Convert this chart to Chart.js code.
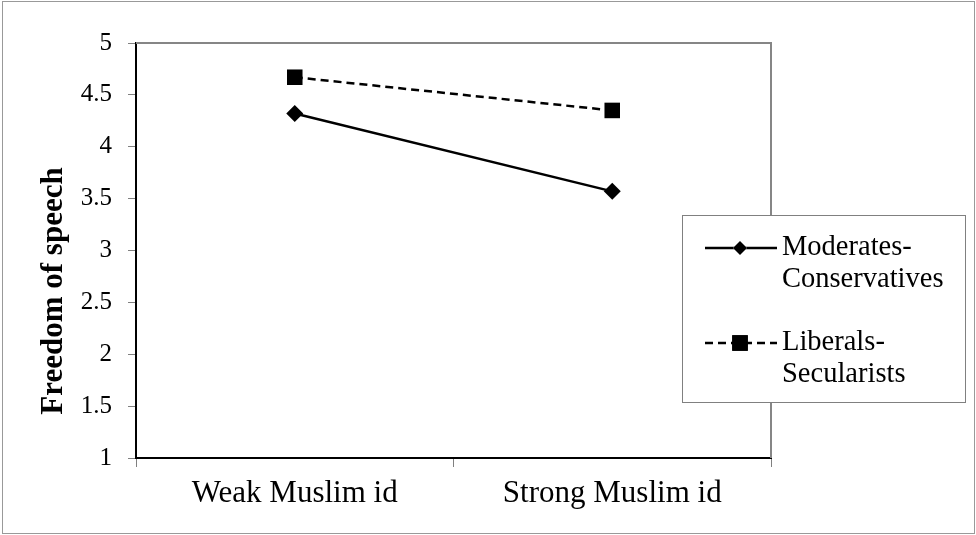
<!DOCTYPE html>
<html><head><meta charset="utf-8">
<script src="https://cdn.jsdelivr.net/npm/chart.js@4.4.0/dist/chart.umd.min.js"></script>
<style>html,body{margin:0;padding:0;background:#fff;} #wrap{position:relative;width:976px;height:535px;}</style>
</head><body><div id="wrap"><canvas id="c" width="976" height="535"></canvas></div>
<script>
const categories = ["Weak Muslim id", "Strong Muslim id"];
const moderatesConservatives = [4.32, 3.57];
const liberalsSecularists = [4.67, 4.35];
const legendLabels = [["Moderates-", "Conservatives"], ["Liberals-", "Secularists"]];
const yTicks = [1, 1.5, 2, 2.5, 3, 3.5, 4, 4.5, 5];
const yTitle = "Freedom of speech";

const SERIF = "'Liberation Serif', 'Times New Roman', serif";

const framePlugin = {
  id: 'frame',
  beforeDraw(chart) {
    const ctx = chart.ctx;
    ctx.save();
    ctx.fillStyle = '#fff';
    ctx.fillRect(0, 0, chart.width, chart.height);
    ctx.strokeStyle = '#999';
    ctx.lineWidth = 1;
    ctx.strokeRect(2.5, 1.5, 972, 532);
    ctx.restore();
  },
  beforeDatasetsDraw(chart) {
    const ctx = chart.ctx, a = chart.chartArea;
    ctx.save();
    ctx.strokeStyle = '#868686';
    ctx.lineWidth = 2;
    ctx.beginPath();
    ctx.moveTo(a.left, a.top);
    ctx.lineTo(a.right, a.top);
    ctx.lineTo(a.right, a.bottom);
    ctx.stroke();
    ctx.restore();
  },
  afterDraw(chart) {
    const ctx = chart.ctx;
    ctx.save();
    // y title
    ctx.translate(62, 291);
    ctx.rotate(-Math.PI / 2);
    ctx.font = "bold 31px " + SERIF;
    ctx.fillStyle = '#000';
    ctx.textAlign = 'center';
    ctx.textBaseline = 'alphabetic';
    ctx.fillText(yTitle, 0, 0);
    ctx.restore();

    // legend
    ctx.save();
    ctx.fillStyle = '#fff';
    ctx.fillRect(682.5, 215.5, 283, 187);
    ctx.strokeStyle = '#808080';
    ctx.lineWidth = 1;
    ctx.strokeRect(682.5, 215.5, 283, 187);
    const ds = chart.data.datasets;
    const rows = [248, 343];
    ds.forEach((d, i) => {
      const y = rows[i];
      ctx.strokeStyle = '#000';
      ctx.lineWidth = 2.5;
      ctx.setLineDash(d.borderDash || []);
      ctx.beginPath();
      ctx.moveTo(705, y);
      ctx.lineTo(777, y);
      ctx.stroke();
      ctx.setLineDash([]);
      Chart.helpers.drawPoint(ctx, {
        pointStyle: d.pointStyle,
        radius: i === 0 ? 7 : 11,
        rotation: 0,
        borderWidth: 0
      }, 740, y);
      ctx.fillStyle = '#000';
      ctx.fill();
      ctx.font = "28.5px " + SERIF;
      ctx.textAlign = 'left';
      ctx.textBaseline = 'middle';
      legendLabels[i].forEach((t, k) => {
        ctx.fillText(t, 782, y + k * 32);
      });
    });
    ctx.restore();
  }
};

new Chart(document.getElementById('c'), {
  type: 'line',
  data: {
    labels: categories,
    datasets: [
      {
        label: 'Moderates-Conservatives',
        data: moderatesConservatives,
        borderColor: '#000',
        borderWidth: 2.5,
        pointStyle: 'rectRot',
        pointRadius: 8.5,
        pointBackgroundColor: '#000',
        pointBorderColor: '#000',
        pointBorderWidth: 0,
        tension: 0,
        fill: false
      },
      {
        label: 'Liberals-Secularists',
        data: liberalsSecularists,
        borderColor: '#000',
        borderWidth: 2.5,
        borderDash: [8, 5],
        pointStyle: 'rect',
        pointRadius: 11,
        pointBackgroundColor: '#000',
        pointBorderColor: '#000',
        pointBorderWidth: 0,
        tension: 0,
        fill: false
      }
    ]
  },
  options: {
    responsive: false,
    animation: false,
    devicePixelRatio: 1,
    layout: { padding: { left: 0, top: 43, right: 205, bottom: 0 } },
    plugins: { legend: { display: false }, tooltip: { enabled: false }, title: { display: false } },
    scales: {
      x: {
        offset: true,
        border: { display: true, color: '#000', width: 2 },
        grid: { offset: true, drawOnChartArea: false, drawTicks: true, tickLength: 9, color: '#808080', lineWidth: 1 },
        ticks: { font: { family: SERIF, size: 31 }, color: '#000', padding: 8, maxRotation: 0, autoSkip: false },
        afterFit: s => { s.height = 535 - 458; }
      },
      y: {
        min: 1, max: 5,
        afterBuildTicks: s => { s.ticks = yTicks.map(v => ({ value: v })); },
        border: { display: true, color: '#000', width: 2 },
        grid: { drawOnChartArea: false, drawTicks: true, tickLength: 8, color: '#808080', lineWidth: 1 },
        ticks: { font: { family: SERIF, size: 25 }, color: '#000', padding: 16, callback: v => String(v) },
        afterFit: s => { s.width = 136; }
      }
    }
  },
  plugins: [framePlugin]
});
</script>
</body></html>
